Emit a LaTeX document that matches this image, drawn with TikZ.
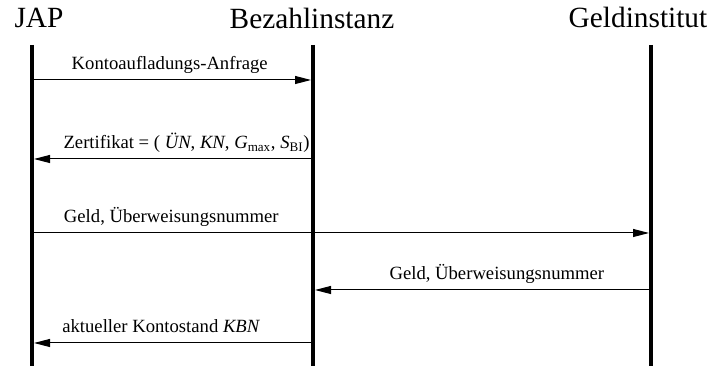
\documentclass[tikz,border=0pt]{standalone}
\usepackage{fontspec}
\setmainfont{Liberation Serif}
\usetikzlibrary{arrows.meta}

\begin{document}
\begin{tikzpicture}[
  x=0.75pt, y=-0.75pt,
  actor/.style={anchor=base,inner sep=0pt,font=\fontsize{22}{26}\selectfont},
  lifeline/.style={line width=3.2pt},
  msg/.style={-{Triangle[length=12pt,width=6pt]},line width=0.75pt,shorten >=1.5pt},
  lbl/.style={anchor=base,yshift=7.5pt,inner sep=0pt,font=\fontsize{14}{16}\selectfont}
]
\useasboundingbox (0,0) rectangle (711,366);

% participants and their lifelines
\node[actor] (jap) at (39,28) {JAP};
\node[actor] (bez) at (312,29) {Bezahlinstanz};
\node[actor] (geld) at (638,28) {Geldinstitut};
\coordinate (l-jap) at (32,45);
\coordinate (l-bez) at (313,45);
\coordinate (l-geld) at (651,45);
\coordinate (bottom) at (0,366);
\foreach \l in {l-jap,l-bez,l-geld}
  \draw[lifeline] (\l) -- (\l |- bottom);

% message rows
\foreach \n/\y in {1/80,2/159,3/233,4/290,5/343}
  \coordinate (m\n) at (0,\y);

\draw[msg] (l-jap |- m1) -- node[lbl,pos=0.49]{Kontoaufladungs-Anfrage} (l-bez |- m1);
\draw[msg] (l-bez |- m2) -- node[lbl,pos=0.45]{Zertifikat = ( \textit{ÜN}, \textit{KN}, \textit{G}\textsubscript{max}, \textit{S}\textsubscript{BI})} (l-jap |- m2);
\draw[msg] (l-jap |- m3) -- node[lbl,pos=0.225]{Geld, Überweisungsnummer} (l-geld |- m3);
\draw[msg] (l-geld |- m4) -- node[lbl,pos=0.456]{Geld, Überweisungsnummer} (l-bez |- m4);
\draw[msg] (l-bez |- m5) -- node[lbl,pos=0.54]{aktueller Kontostand \textit{KBN}} (l-jap |- m5);
\end{tikzpicture}
\end{document}
